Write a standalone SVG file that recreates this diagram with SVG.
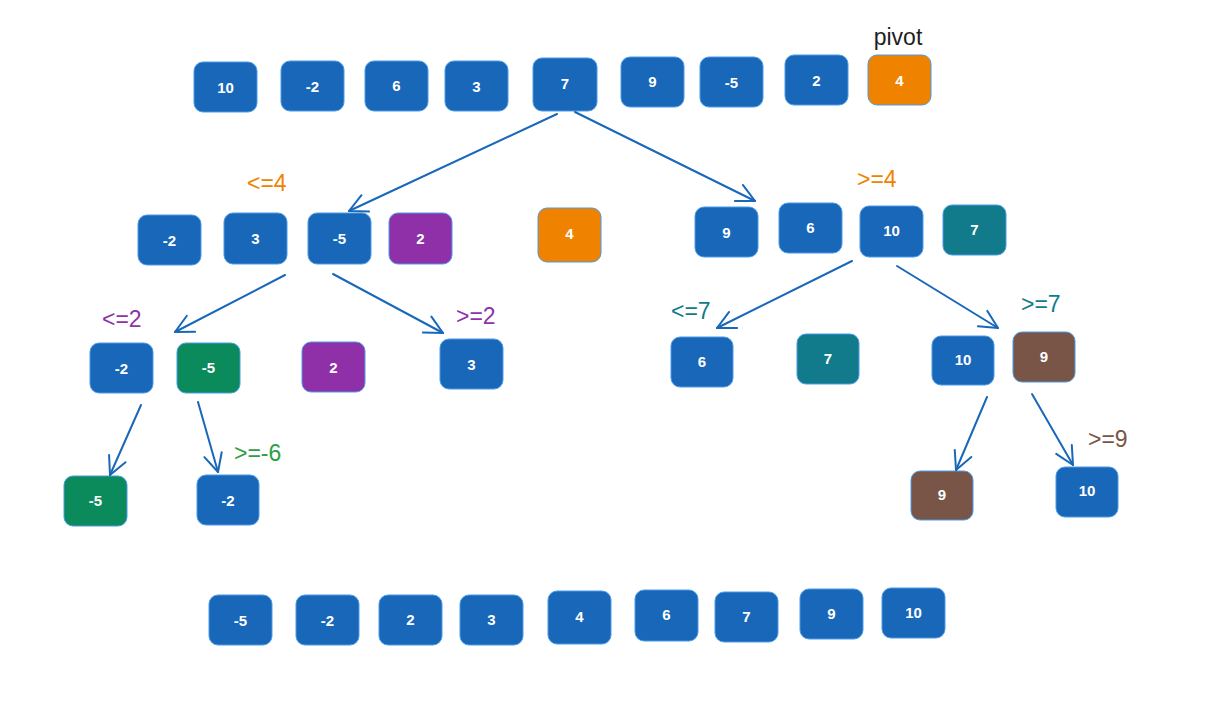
<svg xmlns="http://www.w3.org/2000/svg" width="1216" height="706" viewBox="0 0 1216 706">
<defs>
<style>
.n rect{stroke:#4a9be8;stroke-width:1}
.b rect{fill:#1967b9}
.o rect{fill:#ef8300}
.p rect{fill:#8f30a8}
.g rect{fill:#0b8a5c}
.t rect{fill:#127b8b}
.w rect{fill:#795548}
.n text{fill:#fff;font-family:"Liberation Sans",Arial,sans-serif;font-size:15px;font-weight:bold;text-anchor:middle;dominant-baseline:central}
.lbl{font-family:"Liberation Sans",Arial,sans-serif;font-size:23px}
.conn path{fill:none;stroke:#1967b9;stroke-width:2;stroke-linecap:round}
</style>
<marker id="ah" viewBox="0 0 22 22" refX="20" refY="11" markerWidth="22" markerHeight="22" markerUnits="userSpaceOnUse" orient="auto">
<path d="M2,2 L20,11 L2,20" fill="none" stroke="#1967b9" stroke-width="2" stroke-linecap="round" stroke-linejoin="round"/>
</marker>
</defs>
<rect width="1216" height="706" fill="#fff"/>

<!-- top row -->
<g id="t10" class="n b"><rect x="194" y="62" width="63" height="50" rx="9"/><text x="225.5" y="87">10</text></g>
<g id="tm2" class="n b"><rect x="281" y="61" width="63" height="50" rx="9"/><text x="312.5" y="86">-2</text></g>
<g id="t6" class="n b"><rect x="365" y="61" width="63" height="50" rx="9"/><text x="396.5" y="85">6</text></g>
<g id="t3" class="n b"><rect x="445" y="61" width="63" height="50" rx="9"/><text x="476.5" y="86">3</text></g>
<g id="t7" class="n b"><rect x="533" y="58" width="64" height="53" rx="9"/><text x="565" y="83">7</text></g>
<g id="t9" class="n b"><rect x="621" y="57" width="63" height="50" rx="9"/><text x="652.5" y="81">9</text></g>
<g id="tm5" class="n b"><rect x="700" y="57" width="63" height="50" rx="9"/><text x="731.5" y="82">-5</text></g>
<g id="t2" class="n b"><rect x="785" y="55" width="63" height="50" rx="9"/><text x="816.5" y="80">2</text></g>
<g id="t4" class="n o"><rect x="868" y="55" width="63" height="50" rx="9"/><text x="899.5" y="80">4</text></g>
<text id="pivot" class="lbl" x="898" y="45" text-anchor="middle" fill="#1e1e1e" font-size="24">pivot</text>

<!-- level 2 left -->
<text class="lbl" x="247" y="191" fill="#ef8300">&lt;=4</text>
<g id="l2m2" class="n b"><rect x="138" y="215" width="63" height="50" rx="9"/><text x="169.5" y="240">-2</text></g>
<g id="l23" class="n b"><rect x="224" y="213" width="63" height="51" rx="9"/><text x="255.5" y="238">3</text></g>
<g id="l2m5" class="n b"><rect x="308" y="213" width="63" height="51" rx="9"/><text x="339.5" y="238">-5</text></g>
<g id="l22" class="n p"><rect x="389" y="213" width="63" height="51" rx="9"/><text x="420.5" y="238">2</text></g>
<g id="l24" class="n o"><rect x="538" y="208" width="63" height="54" rx="9"/><text x="569.5" y="233">4</text></g>

<!-- level 2 right -->
<text class="lbl" x="857" y="187" fill="#ef8300">&gt;=4</text>
<g id="r29" class="n b"><rect x="695" y="207" width="63" height="50" rx="9"/><text x="726.5" y="232">9</text></g>
<g id="r26" class="n b"><rect x="779" y="203" width="63" height="50" rx="9"/><text x="810.5" y="227">6</text></g>
<g id="r210" class="n b"><rect x="860" y="206" width="63" height="51" rx="9"/><text x="891.5" y="230">10</text></g>
<g id="r27" class="n t"><rect x="943" y="205" width="63" height="50" rx="9"/><text x="974.5" y="229">7</text></g>

<!-- level 3 left -->
<text class="lbl" x="102" y="327" fill="#9031aa">&lt;=2</text>
<text class="lbl" x="456" y="324" fill="#9031aa">&gt;=2</text>
<g id="l3m2" class="n b"><rect x="90" y="343" width="63" height="50" rx="9"/><text x="121.5" y="368">-2</text></g>
<g id="l3m5" class="n g"><rect x="177" y="343" width="63" height="50" rx="9"/><text x="208.5" y="367">-5</text></g>
<g id="l32" class="n p"><rect x="302" y="342" width="63" height="50" rx="9"/><text x="333.5" y="367">2</text></g>
<g id="l33" class="n b"><rect x="440" y="339" width="63" height="50" rx="9"/><text x="471.5" y="364">3</text></g>

<!-- level 3 right -->
<text class="lbl" x="671" y="319" fill="#127b8b">&lt;=7</text>
<text class="lbl" x="1021" y="312" fill="#127b8b">&gt;=7</text>
<g id="r36" class="n b"><rect x="671" y="337" width="62" height="50" rx="9"/><text x="702" y="361">6</text></g>
<g id="r37" class="n t"><rect x="797" y="334" width="62" height="50" rx="9"/><text x="828" y="358">7</text></g>
<g id="r310" class="n b"><rect x="932" y="336" width="62" height="49" rx="9"/><text x="963" y="359">10</text></g>
<g id="r39" class="n w"><rect x="1013" y="332" width="62" height="50" rx="9"/><text x="1044" y="356">9</text></g>

<!-- level 4 -->
<text class="lbl" x="234" y="461" fill="#2f9e44">&gt;=-6</text>
<text class="lbl" x="1088" y="447" fill="#795548">&gt;=9</text>
<g id="l4m5" class="n g"><rect x="64" y="476" width="63" height="50" rx="9"/><text x="95.5" y="500">-5</text></g>
<g id="l4m2" class="n b"><rect x="197" y="475" width="62" height="50" rx="9"/><text x="228" y="500">-2</text></g>
<g id="r49" class="n w"><rect x="911" y="471" width="62" height="49" rx="9"/><text x="942" y="494">9</text></g>
<g id="r410" class="n b"><rect x="1056" y="467" width="62" height="50" rx="9"/><text x="1087" y="490">10</text></g>

<!-- bottom sorted row -->
<g id="s1" class="n b"><rect x="209" y="595" width="63" height="50" rx="9"/><text x="240.5" y="620">-5</text></g>
<g id="s2" class="n b"><rect x="296" y="595" width="63" height="50" rx="9"/><text x="327.5" y="620">-2</text></g>
<g id="s3" class="n b"><rect x="379" y="595" width="63" height="50" rx="9"/><text x="410.5" y="619">2</text></g>
<g id="s4" class="n b"><rect x="460" y="595" width="63" height="50" rx="9"/><text x="491.5" y="619">3</text></g>
<g id="s5" class="n b"><rect x="548" y="591" width="63" height="53" rx="9"/><text x="579.5" y="616">4</text></g>
<g id="s6" class="n b"><rect x="635" y="590" width="63" height="51" rx="9"/><text x="666.5" y="614">6</text></g>
<g id="s7" class="n b"><rect x="715" y="592" width="63" height="50" rx="9"/><text x="746.5" y="616">7</text></g>
<g id="s8" class="n b"><rect x="800" y="589" width="63" height="50" rx="9"/><text x="831.5" y="613">9</text></g>
<g id="s9" class="n b"><rect x="882" y="588" width="63" height="50" rx="9"/><text x="913.5" y="612">10</text></g>

<!-- connectors -->
<g id="connectors" class="conn">
<path d="M557,114 L349,211" marker-end="url(#ah)"/>
<path d="M575,112 L755,201" marker-end="url(#ah)"/>
<path d="M285,275 L175,332" marker-end="url(#ah)"/>
<path d="M333,274 L443,333" marker-end="url(#ah)"/>
<path d="M852,261 L717,328" marker-end="url(#ah)"/>
<path d="M897,266 L998,328" marker-end="url(#ah)"/>
<path d="M141,405 L110,475" marker-end="url(#ah)"/>
<path d="M198,402 L218,472" marker-end="url(#ah)"/>
<path d="M987,397 L956,470" marker-end="url(#ah)"/>
<path d="M1032,394 L1073,465" marker-end="url(#ah)"/>
</g>
</svg>
